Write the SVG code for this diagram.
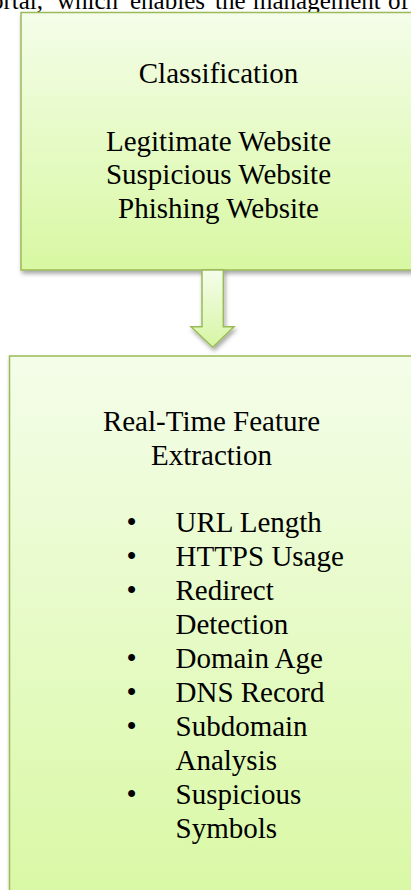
<svg xmlns="http://www.w3.org/2000/svg" width="411" height="890" viewBox="0 0 411 890">
  <defs>
    <linearGradient id="boxFill" x1="0" y1="0" x2="0" y2="1">
      <stop offset="0" stop-color="#f4fde9"/>
      <stop offset="1" stop-color="#d8f8a2"/>
    </linearGradient>
    <linearGradient id="arrowFill" x1="0" y1="0" x2="0" y2="1">
      <stop offset="0" stop-color="#f5fdeb"/>
      <stop offset="1" stop-color="#d6f5a3"/>
    </linearGradient>
    <filter id="shadow" x="-10%" y="-10%" width="130%" height="130%">
      <feDropShadow dx="1.5" dy="3" stdDeviation="2" flood-color="#000" flood-opacity="0.35"/>
    </filter>
    <style>
      .box { fill: url(#boxFill); stroke: #9bbb59; stroke-width: 1.5; filter: url(#shadow); }
      .arrow { fill: url(#arrowFill); stroke: #9bbb59; stroke-width: 1.5; stroke-linejoin: miter; filter: url(#shadow); }
      .t { font-family: "Liberation Serif", "Times New Roman", serif; font-size: 29px; fill: #000; }
      .c { text-anchor: middle; }
      .body { font-family: "Liberation Serif", "Times New Roman", serif; font-size: 25px; fill: #000; }
    </style>
  </defs>

  <rect width="411" height="890" fill="#ffffff"/>

  <text class="body" y="9"><tspan x="-9">ortal,</tspan><tspan x="57">which</tspan><tspan x="130">enables</tspan><tspan x="215">the</tspan><tspan x="253">management</tspan><tspan x="388">of</tspan></text>

  <g id="classification">
    <rect class="box" x="21" y="12.5" width="400" height="257.5"/>
    <text class="t c" x="218.5" y="82.7">Classification</text>
    <text class="t c" x="218.5" y="150.5">Legitimate Website</text>
    <text class="t c" x="218.5" y="184.4">Suspicious Website</text>
    <text class="t c" x="218.5" y="218.3">Phishing Website</text>
  </g>

  <g id="connectors">
    <path class="arrow" d="M202,270 L223.3,270 L223.3,326.7 L234,326.7 L212.7,347.3 L191,326.7 L202,326.7 Z"/>
  </g>

  <g id="feature-extraction">
    <rect class="box" x="9.5" y="356" width="405" height="560"/>
    <text class="t c" x="211.5" y="430.7">Real-Time Feature</text>
    <text class="t c" x="211.5" y="464.6">Extraction</text>
    <g class="t">
      <text x="126.5" y="532.4">•</text>
      <text x="175.5" y="532.4">URL Length</text>
      <text x="126.5" y="566.3">•</text>
      <text x="175.5" y="566.3">HTTPS Usage</text>
      <text x="126.5" y="600.2">•</text>
      <text x="175.5" y="600.2">Redirect</text>
      <text x="175.5" y="634.1">Detection</text>
      <text x="126.5" y="668">•</text>
      <text x="175.5" y="668">Domain Age</text>
      <text x="126.5" y="701.9">•</text>
      <text x="175.5" y="701.9">DNS Record</text>
      <text x="126.5" y="735.8">•</text>
      <text x="175.5" y="735.8">Subdomain</text>
      <text x="175.5" y="769.7">Analysis</text>
      <text x="126.5" y="803.6">•</text>
      <text x="175.5" y="803.6">Suspicious</text>
      <text x="175.5" y="837.5">Symbols</text>
    </g>
  </g>
</svg>
